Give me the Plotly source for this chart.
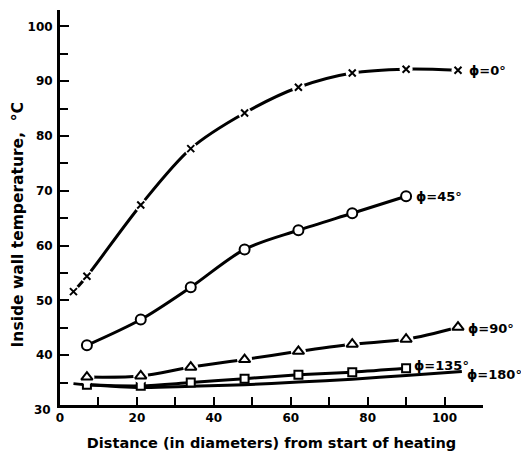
import plotly.graph_objects as go

# Stations along the tube (diameters from start of heating)
x_pts = [7, 21, 34, 48, 62, 76, 90, 103.5]

# phi = 0 deg (top of tube), includes an extra point near the inlet
x_phi0 = [3.5, 7, 21, 34, 48, 62, 76, 90, 103.5]
t_phi0 = [51.6, 54.4, 67.4, 77.7, 84.2, 88.9, 91.5, 92.2, 92.0]

x_phi45 = [7, 21, 34, 48, 62, 76, 90]
t_phi45 = [41.8, 46.5, 52.4, 59.3, 62.8, 65.9, 69.0]

x_phi90 = x_pts
t_phi90 = [36.0, 36.2, 37.8, 39.2, 40.7, 42.0, 42.9, 45.1]

x_phi135 = [7, 21, 34, 48, 62, 76, 90]
t_phi135 = [34.6, 34.4, 35.0, 35.7, 36.4, 36.9, 37.6]

# phi = 180 deg (bottom of tube), curve only
x_phi180 = [3.5, 7, 21, 34, 48, 62, 76, 90, 104.5]
t_phi180 = [34.8, 34.6, 34.1, 34.3, 34.6, 35.1, 35.6, 36.3, 37.0]

x_ticks = [0, 20, 40, 60, 80, 100]
y_ticks = [40, 50, 60, 70, 80, 90, 100]

FONT = "DejaVu Sans"
INK = "black"

fig = go.Figure()


def curve(x, y, width=3):
    fig.add_trace(go.Scatter(
        x=x, y=y, mode="lines",
        line=dict(color=INK, width=width, shape="spline", smoothing=0.9),
        hoverinfo="skip", showlegend=False, cliponaxis=False))


def halo(x, y, size):
    # white discs that open a small gap in the curve around each marker
    fig.add_trace(go.Scatter(
        x=x, y=y, mode="markers",
        marker=dict(symbol="circle", size=size, color="white", line=dict(width=0)),
        hoverinfo="skip", showlegend=False, cliponaxis=False))


def marks(x, y, symbol, size, lw=2, fill="white"):
    fig.add_trace(go.Scatter(
        x=x, y=y, mode="markers",
        marker=dict(symbol=symbol, size=size, color=fill,
                    line=dict(color=INK, width=lw)),
        hoverinfo="skip", showlegend=False, cliponaxis=False))


# phi = 180
curve(x_phi180, t_phi180)
# phi = 135
curve(x_phi135, t_phi135)
marks(x_phi135, t_phi135, "square", 8)
# phi = 90
curve(x_phi90, t_phi90)
halo(x_phi90, t_phi90, 15)
marks(x_phi90, t_phi90, "triangle-up", 10)
# phi = 45
curve(x_phi45, t_phi45)
marks(x_phi45, t_phi45, "circle", 10)
# phi = 0
curve(x_phi0, t_phi0)
halo(x_phi0, t_phi0, 13)
marks(x_phi0, t_phi0, "x-thin", 7, lw=2, fill=INK)

lab_font = dict(family=FONT, size=13, color=INK, weight="bold")
labels = [
    ("\u03d5=0\u00b0", x_phi0[-1], t_phi0[-1], 9, 0),
    ("\u03d5=45\u00b0", x_phi45[-1], t_phi45[-1], 8, 0),
    ("\u03d5=90\u00b0", x_phi90[-1], t_phi90[-1], 8, -1),
    ("\u03d5=135\u00b0", x_phi135[-1], t_phi135[-1], 6, 3),
    ("\u03d5=180\u00b0", x_phi180[-1], t_phi180[-1], 3, -3),
]
for text, xv, yv, dx, dy in labels:
    fig.add_annotation(x=xv, y=yv, text=text, showarrow=False,
                       xanchor="left", yanchor="middle", xshift=dx, yshift=dy,
                       font=lab_font)

tick_font = dict(family=FONT, size=12, color=INK, weight="bold")

# origin label of the temperature scale, just below the axis corner
fig.add_annotation(x=0, xref="paper", y=0, yref="paper", text="30",
                   showarrow=False, xanchor="right", yanchor="middle",
                   xshift=-7, yshift=-5, font=tick_font)

fig.add_annotation(x=-0.099, xref="paper", y=0.455, yref="paper",
                   text="Inside wall temperature,  \u00b0C", showarrow=False,
                   textangle=-90, xanchor="center", yanchor="middle",
                   font=dict(family=FONT, size=15.5, color=INK, weight="bold"))

fig.update_xaxes(
    range=[0, 110], tickvals=x_ticks, ticktext=[str(v) for v in x_ticks],
    ticks="inside", ticklen=8, tickwidth=2, tickcolor=INK,
    minor=dict(dtick=10, tick0=0, ticks="inside", ticklen=8, tickwidth=2, tickcolor=INK),
    showline=True, linecolor=INK, linewidth=3, showgrid=False, zeroline=False,
    tickfont=tick_font,
    title=dict(text="Distance (in diameters) from start of heating",
               font=dict(family=FONT, size=14.5, color=INK, weight="bold"),
               standoff=14),
)
fig.update_yaxes(
    range=[30.9, 103], tickvals=y_ticks, ticktext=[str(v) for v in y_ticks],
    ticks="inside", ticklen=9, tickwidth=2, tickcolor=INK,
    minor=dict(dtick=5, tick0=0, ticks="inside", ticklen=8, tickwidth=2, tickcolor=INK),
    showline=True, linecolor=INK, linewidth=3, showgrid=False, zeroline=False,
    tickfont=tick_font, ticklabelstandoff=2,
)

fig.update_layout(
    width=521, height=454,
    margin=dict(l=60, r=38, t=10, b=49, autoexpand=False),
    plot_bgcolor="white", paper_bgcolor="white",
    showlegend=False,
)

fig.write_html("out.html")
